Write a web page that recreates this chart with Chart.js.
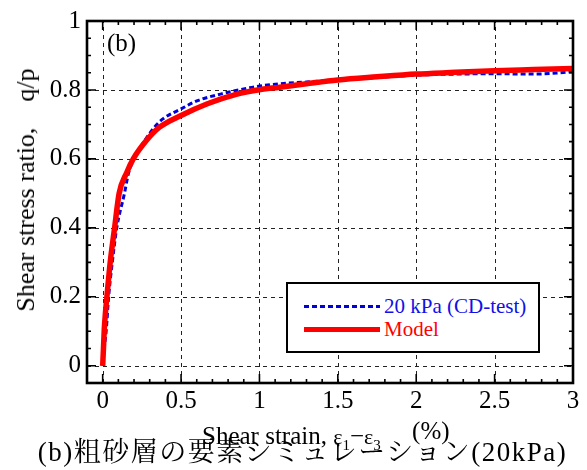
<!DOCTYPE html>
<html lang="ja">
<head>
    <meta charset="UTF-8">
    <title>粗砂層の要素シミュレーション</title>
    <style>
        body {
            margin: 0;
            background: #fff;
            font-family: "Liberation Serif", "Noto Serif CJK JP", serif;
        }
        #wrap {
            position: relative;
            width: 587px;
            height: 470px;
            overflow: hidden;
        }
        #chart {
            position: absolute;
            left: 0;
            top: 0;
        }
        .panel-tag {
            position: absolute;
            left: 107px;
            top: 29px;
            font-size: 25px;
            color: #000;
        }
        .y-title {
            position: absolute;
            left: 26px;
            top: 190px;
            font-size: 26px;
            white-space: pre;
            transform: translate(-50%, -50%) rotate(-90deg);
        }
        .x-title {
            position: absolute;
            left: 202px;
            top: 422px;
            font-size: 25px;
            white-space: pre;
        }
        .x-title .eps { font-size: 22px; }
        .x-title sub { font-size: 15px; vertical-align: -6px; }
        .x-title .unit { position: relative; top: -5px; }
        .caption {
            position: absolute;
            left: 0;
            width: 605px;
            top: 430px;
            text-align: center;
            font-size: 27px;
            letter-spacing: 1.5px;
            white-space: nowrap;
        }
        #legend {
            position: absolute;
            left: 286px;
            top: 282px;
            width: 250px;
            height: 67px;
            border: 2.5px solid #000;
            background: #fff;
        }
        .leg-row {
            position: absolute;
            left: 0;
            height: 24px;
            font-size: 21px;
            white-space: nowrap;
        }
        .leg-row .sample {
            position: absolute;
            left: 16px;
            width: 76px;
        }
        .leg-row .label {
            position: absolute;
            left: 96px;
            top: 0;
        }
    </style>
    <script src="https://cdn.jsdelivr.net/npm/chart.js"></script>
</head>
<body>
<div id="wrap">
    <canvas id="chart" width="587" height="470"></canvas>
    <div class="panel-tag">(b)</div>
    <div class="y-title">Shear stress ratio,    q/p</div>
    <div class="caption">(b)粗砂層の要素シミュレーション(20kPa)</div>
    <div class="x-title">Shear strain, <span class="eps">ε</span><sub>1</sub>−<span class="eps">ε</span><sub>3</sub>     <span class="unit">(%)</span></div>
    <div id="legend">
        <div class="leg-row" style="top: 10px;">
            <div class="sample" style="top: 11px; height: 3px; background: repeating-linear-gradient(90deg, #0000dd 0 5px, transparent 5px 8px);"></div>
            <div class="label" style="color: #1010e8;">20 kPa (CD-test)</div>
        </div>
        <div class="leg-row" style="top: 33px;">
            <div class="sample" style="top: 10px; height: 5px; background: #ff0000;"></div>
            <div class="label" style="color: #ff0000;">Model</div>
        </div>
    </div>
</div>

<script>
    // Drained triaxial test, 20 kPa confining pressure
    const strainTest = [0, 0.01, 0.023, 0.038, 0.063, 0.09, 0.139, 0.164, 0.2, 0.27, 0.33, 0.384,
        0.5, 0.605, 0.752, 0.9, 0.98, 1.13, 1.3, 1.5, 1.75, 2.0, 2.25, 2.5, 2.75, 2.9, 3.0];
    const ratioTest = [0, 0.05, 0.104, 0.2, 0.306, 0.4, 0.5, 0.557, 0.6, 0.654, 0.692, 0.716,
        0.745, 0.769, 0.788, 0.803, 0.81, 0.818, 0.823, 0.829, 0.836, 0.843, 0.846, 0.847, 0.846, 0.849, 0.853];

    // Constitutive model response
    const strainModel = [0, 0.005, 0.01, 0.017, 0.027, 0.048, 0.076, 0.105, 0.153, 0.195, 0.28, 0.363,
        0.5, 0.668, 0.857, 0.99, 1.13, 1.3, 1.5, 1.75, 2.0, 2.25, 2.5, 2.75, 3.0];
    const ratioModel = [0, 0.05, 0.104, 0.15, 0.2, 0.3, 0.4, 0.5, 0.56, 0.6, 0.654, 0.692,
        0.726, 0.76, 0.788, 0.8, 0.808, 0.818, 0.829, 0.838, 0.846, 0.851, 0.856, 0.859, 0.862];

    const xMajor = [0, 0.5, 1, 1.5, 2, 2.5, 3];
    const yMajor = [0, 0.2, 0.4, 0.6, 0.8, 1];
    const xMinor = [-0.1, 0.1, 0.2, 0.3, 0.4, 0.6, 0.7, 0.8, 0.9, 1.1, 1.2, 1.3, 1.4,
        1.6, 1.7, 1.8, 1.9, 2.1, 2.2, 2.3, 2.4, 2.6, 2.7, 2.8, 2.9];
    const yMinor = [-0.05, 0.05, 0.1, 0.15, 0.25, 0.3, 0.35, 0.45, 0.5, 0.55,
        0.65, 0.7, 0.75, 0.85, 0.9, 0.95];

    function toPoints(xs, ys) {
        return xs.map((x, i) => ({ x: x, y: ys[i] }));
    }

    // dashed grid behind the curves
    const gridPlugin = {
        id: 'dashGrid',
        beforeDatasetsDraw(chart) {
            const { ctx, chartArea: a, scales: { x, y } } = chart;
            ctx.save();
            ctx.strokeStyle = '#222';
            ctx.lineWidth = 1;
            ctx.setLineDash([4, 4]);
            xMajor.forEach(v => {
                const px = Math.round(x.getPixelForValue(v)) + 0.5;
                ctx.beginPath();
                ctx.moveTo(px, a.bottom);
                ctx.lineTo(px, a.top);
                ctx.stroke();
            });
            yMajor.forEach(v => {
                const py = Math.round(y.getPixelForValue(v)) + 0.5;
                ctx.beginPath();
                ctx.moveTo(a.left, py);
                ctx.lineTo(a.right, py);
                ctx.stroke();
            });
            ctx.restore();
        }
    };

    // box frame with inward ticks on all four sides
    const framePlugin = {
        id: 'frame',
        afterDraw(chart) {
            const { ctx, chartArea: a, scales: { x, y } } = chart;
            ctx.save();
            ctx.strokeStyle = '#000';
            ctx.lineWidth = 1.6;
            const tickX = (v, len) => {
                const px = x.getPixelForValue(v);
                ctx.beginPath();
                ctx.moveTo(px, a.bottom);
                ctx.lineTo(px, a.bottom - len);
                ctx.moveTo(px, a.top);
                ctx.lineTo(px, a.top + len);
                ctx.stroke();
            };
            const tickY = (v, len) => {
                const py = y.getPixelForValue(v);
                ctx.beginPath();
                ctx.moveTo(a.left, py);
                ctx.lineTo(a.left + len, py);
                ctx.moveTo(a.right, py);
                ctx.lineTo(a.right - len, py);
                ctx.stroke();
            };
            xMajor.forEach(v => tickX(v, 9));
            xMinor.forEach(v => tickX(v, 4));
            yMajor.forEach(v => tickY(v, 9));
            yMinor.forEach(v => tickY(v, 4));
            ctx.lineWidth = 2.6;
            ctx.strokeRect(a.left, a.top, a.right - a.left, a.bottom - a.top);
            ctx.restore();
        }
    };

    Chart.defaults.font.family = 'Liberation Serif';
    const tickFont = { family: 'Liberation Serif', size: 25 };
    const tickText = v => String(v);

    new Chart(document.getElementById('chart'), {
        type: 'scatter',
        data: {
            datasets: [
                {
                    label: '20 kPa (CD-test)',
                    data: toPoints(strainTest, ratioTest),
                    showLine: true,
                    borderColor: '#0000dd',
                    borderWidth: 3,
                    borderDash: [5, 3],
                    pointRadius: 0,
                    cubicInterpolationMode: 'monotone',
                    order: 1
                },
                {
                    label: 'Model',
                    data: toPoints(strainModel, ratioModel),
                    showLine: true,
                    borderColor: '#ff0000',
                    borderWidth: 5.5,
                    pointRadius: 0,
                    cubicInterpolationMode: 'monotone',
                    order: 0
                }
            ]
        },
        options: {
            responsive: false,
            animation: false,
            devicePixelRatio: 1,
            layout: { padding: { left: 0, top: 19, right: 14, bottom: 0 } },
            plugins: {
                legend: { display: false },
                tooltip: { enabled: false }
            },
            scales: {
                x: {
                    type: 'linear',
                    min: -0.1,
                    max: 3,
                    afterBuildTicks: s => { s.ticks = xMajor.map(v => ({ value: v })); },
                    afterFit: s => { s.height = 87; },
                    grid: { display: false, drawTicks: false },
                    border: { display: false },
                    ticks: { color: '#000', font: tickFont, padding: 3, maxRotation: 0, callback: tickText }
                },
                y: {
                    type: 'linear',
                    min: -0.05,
                    max: 1,
                    afterBuildTicks: s => { s.ticks = yMajor.map(v => ({ value: v })); },
                    afterFit: s => { s.width = 87; },
                    grid: { display: false, drawTicks: false },
                    border: { display: false },
                    ticks: { color: '#000', font: tickFont, padding: 6, callback: tickText }
                }
            }
        },
        plugins: [gridPlugin, framePlugin]
    });
</script>
</body>
</html>
